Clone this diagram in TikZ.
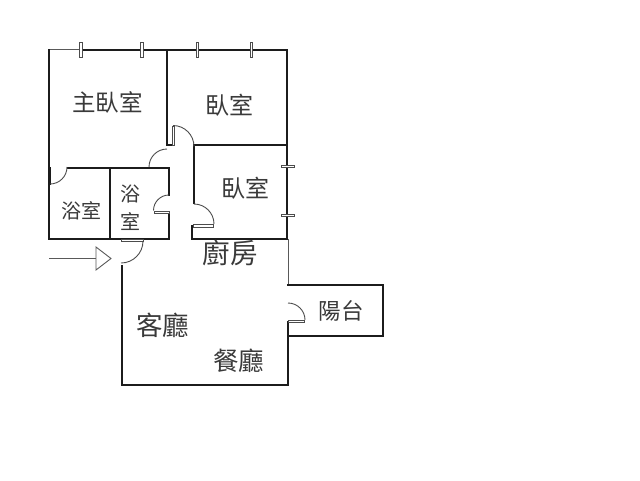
\documentclass[tikz,border=0pt]{standalone}
\usepackage{fontspec}
\newfontfamily\cjk{Noto Sans CJK TC}
\definecolor{wall}{HTML}{1C1C1C}
\definecolor{inkc}{HTML}{3A3A3A}
\tikzset{
  wallline/.style={draw=wall,line width=2pt,line cap=rect},
  thinline/.style={draw=black!65,line width=0.7pt},
  arcline/.style={draw=black!70,line width=0.9pt},
  leaf/.style={draw=black!70,line width=0.7pt,fill=white},
  win/.style={draw=black!70,line width=0.7pt,fill=white},
  lab/.style={inner sep=0pt,text=inkc},
}
\newcommand{\lb}[1]{\fontsize{#1}{#1}\selectfont\cjk}
\begin{document}
\begin{tikzpicture}[x=1pt,y=-1pt]
\useasboundingbox (0,0) rectangle (640,480);
% thin lines
\draw[thinline] (49,49.5) -- (80,49.5);
\draw[thinline] (288.7,239) -- (288.7,285);
% walls
\draw[wallline] (80,49.5) -- (287,49.5) -- (287,239) -- (192,239) -- (192,226);
\draw[wallline] (49,49.5) -- (49,239) -- (169,239) -- (169,212);
\draw[wallline] (167.3,49.5) -- (167.3,145) -- (173,145);
\draw[wallline] (194,145) -- (287,145);
\draw[wallline] (194,145) -- (194,203);
\draw[wallline] (68,167.7) -- (169,167.7) -- (169,195);
\draw[wallline] (109.5,167.7) -- (109.5,239);
\draw[wallline] (121.5,266) -- (121.5,385) -- (288,385) -- (288,321.5);
\draw[wallline] (288,285) -- (383,285) -- (383,336) -- (288,336);
\draw[wallline] (50,168) -- (50,184);
% door leaves
\draw[leaf] (172,126) rectangle (174.5,145);
\draw[leaf] (193,224.5) rectangle (213,227);
\draw[leaf] (154,211) rectangle (169,213);
\draw[leaf] (121,239.5) rectangle (143,241.5);
\draw[leaf] (288,320.5) rectangle (304,322.5);
% door arcs (y axis points down, so angles run clockwise on the page)
\draw[arcline] (173,125.5) arc[start angle=-90,end angle=0,radius=21];
\draw[arcline] (167,149) arc[start angle=-90,end angle=-180,radius=18];
\draw[arcline] (194,204) arc[start angle=-90,end angle=0,radius=20];
\draw[arcline] (50,184) arc[start angle=90,end angle=0,radius=17];
\draw[arcline] (169,195) arc[start angle=-90,end angle=-180,radius=15.5];
\draw[arcline] (143,241) arc[start angle=0,end angle=90,radius=22];
\draw[arcline] (288,303) arc[start angle=-90,end angle=0,radius=17];
% windows
\draw[win] (79.5,42.5) rectangle (82,57);
\draw[win] (140.5,42.5) rectangle (143,57);
\draw[win] (196,42.5) rectangle (198.5,57);
\draw[win] (250,42.5) rectangle (252.5,57);
\draw[win] (281,165) rectangle (294,167.5);
\draw[win] (281,214) rectangle (294,216.5);
% entry arrow
\coordinate (arrowstart) at (49,258);
\coordinate (arrowend) at (96,258);
\draw[thinline] (arrowstart) -- (arrowend);
\draw[thinline,line width=0.9pt] (96,247) -- (111,258.5) -- (96,270) -- cycle;
% labels
\node[lab] (master) at (107.5,102) {\lb{23.5}主臥室};
\node[lab] (bedb) at (229,105) {\lb{24}臥室};
\node[lab] (bedc) at (245.5,188) {\lb{24}臥室};
\node[lab] (batha) at (81,211) {\lb{20}浴室};
\node[lab] (bathb) at (130,194) {\lb{20}浴};
\node[lab] (bathc) at (130,222) {\lb{20}室};
\node[lab] (kitchen) at (230,253) {\lb{27.5}廚房};
\node[lab] (balcony) at (341,311) {\lb{22.5}陽台};
\node[lab] (living) at (162.5,325) {\lb{26.5}客廳};
\node[lab] (dining) at (238.5,361) {\lb{25.5}餐廳};
\end{tikzpicture}
\end{document}
